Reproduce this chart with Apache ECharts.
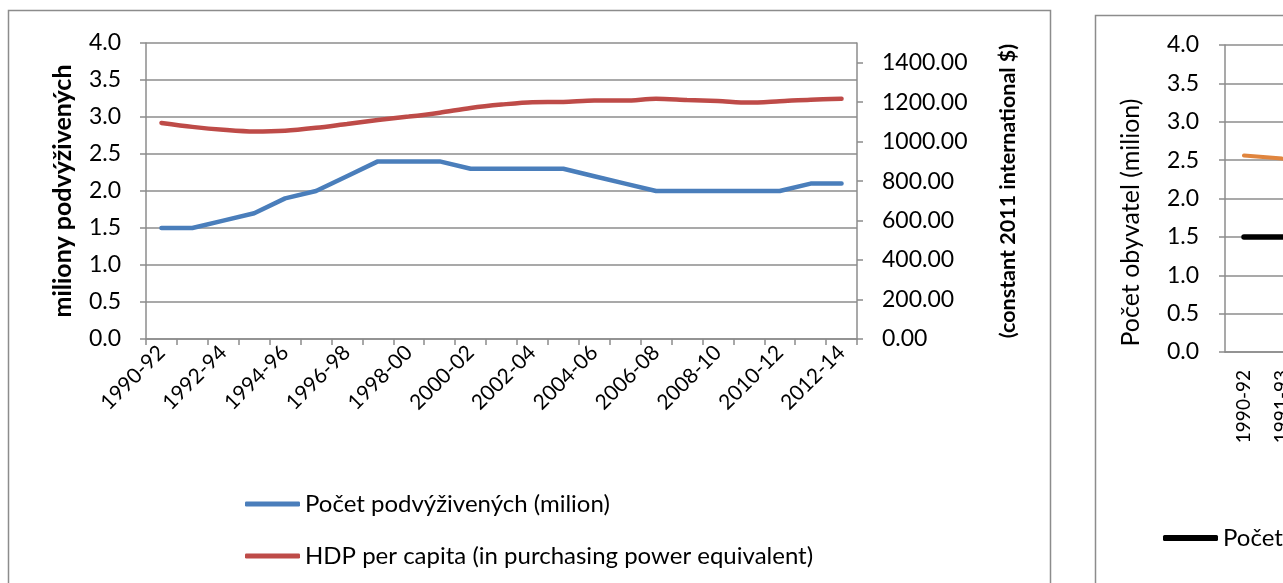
<!DOCTYPE html>
<html>
<head>
<meta charset="utf-8">
<script src="https://cdn.jsdelivr.net/npm/echarts@6/dist/echarts.min.js"></script>
<style>
html,body{margin:0;padding:0;background:#fff;}
#c{width:1283px;height:583px;}
</style>
</head>
<body>
<div id="c"></div>
<script>
const categories = ['1990-92','1991-93','1992-94','1993-95','1994-96','1995-97','1996-98','1997-99','1998-00','1999-01','2000-02','2001-03','2002-04','2003-05','2004-06','2005-07','2006-08','2007-09','2008-10','2009-11','2010-12','2011-13','2012-14'];
const undernourished = [1.5,1.5,1.6,1.7,1.9,2.0,2.2,2.4,2.4,2.4,2.3,2.3,2.3,2.3,2.2,2.1,2.0,2.0,2.0,2.0,2.0,2.1,2.1];
const gdpPerCapita = [1095,1075,1060,1051,1055,1070,1090,1110,1127,1147,1171,1188,1200,1201,1208,1208,1217,1211,1206,1198,1205,1213,1217];
// second (cropped) chart: only the first points are visible
const populationVisible = [2.56,2.52,2.50];
const undernourishedVisible = [1.5,1.5,1.5];
const leftTicks = {min:0,max:4,interval:0.5};
const rightTicks = {min:0,max:1500,interval:200};

const FONT = 'Lato, "Open Sans", sans-serif';
const GRAY = '#8c8c8c';
const chart = echarts.init(document.getElementById('c'));
chart.setOption({
  animation:false,
  textStyle:{fontFamily:FONT},
  graphic:[
    {type:'rect',shape:{x:8.5,y:10.5,width:1042,height:600},style:{fill:null,stroke:GRAY,lineWidth:1.5},z:-1},
    {type:'rect',shape:{x:1095.5,y:15.5,width:400,height:600},style:{fill:null,stroke:GRAY,lineWidth:1.5},z:-1}
  ],
  grid:[
    {left:146,right:1283-857,top:43,bottom:583-339,outerBoundsMode:'none'},
    {left:1225,right:-(1225+38*23-1283),top:45,bottom:583-352,outerBoundsMode:'none'}
  ],
  legend:[
    {orient:'vertical',left:240,top:487,itemWidth:55,itemHeight:5,itemGap:28,icon:'roundRect',
     textStyle:{fontFamily:FONT,fontSize:24,lineHeight:24,color:'#000'},
     data:['Počet podvýživených (milion)','HDP per capita (in purchasing power equivalent)']},
    {orient:'horizontal',left:1158,top:521,itemWidth:55,itemHeight:6,icon:'roundRect',
     textStyle:{fontFamily:FONT,fontSize:24,lineHeight:24,color:'#000'},
     data:['Počet podvýživených']}
  ],
  xAxis:[
    {type:'category',gridIndex:0,data:categories,boundaryGap:true,
     axisLine:{lineStyle:{color:GRAY,width:1.5}},
     axisTick:{show:true,length:6,lineStyle:{color:GRAY,width:1.5},interval:0},
     axisLabel:{interval:1,rotate:45,fontFamily:FONT,fontSize:21,color:'#000',margin:10}},
    {type:'category',gridIndex:1,data:categories,boundaryGap:true,
     axisLine:{lineStyle:{color:GRAY,width:1.5}},
     axisTick:{show:false},
     axisLabel:{interval:0,rotate:90,fontFamily:FONT,fontSize:19,color:'#000',margin:18}}
  ],
  yAxis:[
    {type:'value',gridIndex:0,min:leftTicks.min,max:leftTicks.max,interval:leftTicks.interval,
     name:'miliony podvýživených',nameLocation:'middle',nameGap:71,nameRotate:90,
     nameTextStyle:{fontFamily:FONT,fontSize:25,fontWeight:'bold',color:'#000'},
     axisLine:{show:true,lineStyle:{color:GRAY,width:1.5}},
     axisTick:{show:true,length:6,lineStyle:{color:GRAY,width:1.5}},
     axisLabel:{fontFamily:FONT,fontSize:23,color:'#000',margin:25,formatter:v=>v.toFixed(1)},
     splitLine:{lineStyle:{color:GRAY,width:1.5}}},
    {type:'value',gridIndex:0,position:'right',min:rightTicks.min,max:rightTicks.max,interval:rightTicks.interval,
     name:'(constant 2011 international $)',nameLocation:'middle',nameGap:140,nameRotate:90,
     nameTextStyle:{fontFamily:FONT,fontSize:21.5,fontWeight:'bold',color:'#000'},
     axisLine:{show:true,lineStyle:{color:GRAY,width:1.5}},
     axisTick:{show:true,length:6,lineStyle:{color:GRAY,width:1.5}},
     axisLabel:{fontFamily:FONT,fontSize:23,color:'#000',margin:25,showMaxLabel:false,formatter:v=>v.toFixed(2)},
     splitLine:{show:false}},
    {type:'value',gridIndex:1,min:leftTicks.min,max:leftTicks.max,interval:leftTicks.interval,
     name:'Počet obyvatel (milion)',nameLocation:'middle',nameGap:82,nameRotate:90,
     nameTextStyle:{fontFamily:FONT,fontSize:25,color:'#000',padding:[0,48,0,0]},
     axisLine:{show:true,lineStyle:{color:GRAY,width:1.5}},
     axisTick:{show:true,length:6,lineStyle:{color:GRAY,width:1.5}},
     axisLabel:{fontFamily:FONT,fontSize:23,color:'#000',margin:26,formatter:v=>v.toFixed(1)},
     splitLine:{lineStyle:{color:GRAY,width:1.5}}}
  ],
  series:[
    {name:'Počet podvýživených (milion)',type:'line',xAxisIndex:0,yAxisIndex:0,data:undernourished,
     showSymbol:false,lineStyle:{color:'#4a7ebb',width:4.5,cap:'round'},itemStyle:{color:'#4a7ebb'}},
    {name:'HDP per capita (in purchasing power equivalent)',type:'line',xAxisIndex:0,yAxisIndex:1,data:gdpPerCapita,
     smooth:0.3,showSymbol:false,lineStyle:{color:'#be4b48',width:4.5,cap:'round'},itemStyle:{color:'#be4b48'}},
    {name:'Počet obyvatel',type:'line',xAxisIndex:1,yAxisIndex:2,data:populationVisible,
     showSymbol:false,lineStyle:{color:'#e0853e',width:4,cap:'round'},itemStyle:{color:'#e0853e'}},
    {name:'Počet podvýživených',type:'line',xAxisIndex:1,yAxisIndex:2,data:undernourishedVisible,
     showSymbol:false,lineStyle:{color:'#000',width:5.5,cap:'round'},itemStyle:{color:'#000'}}
  ]
});
</script>
</body>
</html>
